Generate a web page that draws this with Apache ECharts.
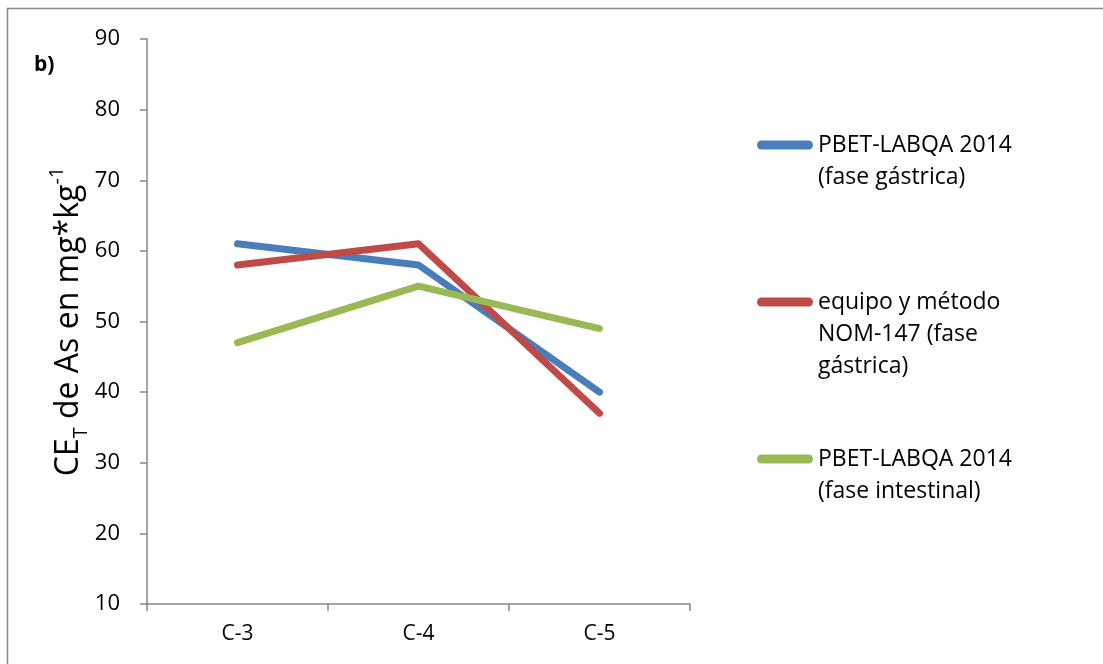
<!DOCTYPE html>
<html>
<head>
<meta charset="utf-8">
<script src="https://cdn.jsdelivr.net/npm/echarts@6/dist/echarts.min.js"></script>
<style>
  html, body { margin: 0; padding: 0; background: #fff; }
  #chart { width: 1103px; height: 664px; }
</style>
</head>
<body>
<div id="chart"></div>
<script>
// Categories and series values
const categories = ['C-3', 'C-4', 'C-5'];
const pbetGastrica = [61, 58, 40];
const nom147Gastrica = [58, 61, 37];
const pbetIntestinal = [47, 55, 49];

const seriesNames = [
  'PBET-LABQA 2014\n(fase gástrica)',
  'equipo y método\nNOM-147 (fase\ngástrica)',
  'PBET-LABQA 2014\n(fase intestinal)'
];
const seriesColors = ['#4A7EBB', '#BE4B48', '#98B954'];
const seriesValues = [pbetGastrica, nom147Gastrica, pbetIntestinal];

const FONT = '"Open Sans", "Noto Sans", sans-serif';
const LINE_H = 32;

const chart = echarts.init(document.getElementById('chart'));

chart.setOption({
  animation: false,
  backgroundColor: '#ffffff',
  textStyle: { fontFamily: FONT },
  grid: { left: 147, right: 413, top: 39, bottom: 60, containLabel: false },
  graphic: [
    {
      type: 'rect',
      shape: { x: 7.5, y: 8.5, width: 1200, height: 700 },
      style: { fill: 'none', stroke: '#898989', lineWidth: 1.5 },
      silent: true
    },
    {
      type: 'text',
      left: 34, top: 55,
      style: { text: 'b)', font: 'bold 21px ' + FONT, fill: '#000' }
    }
  ],
  legend: {
    orient: 'vertical',
    left: 757,
    top: 97,
    padding: 0,
    itemWidth: 56,
    itemHeight: 9,
    itemGap: 29,
    icon: 'path://M4.5,0 L51.5,0 A4.5,4.5 0 0 1 51.5,9 L4.5,9 A4.5,4.5 0 0 1 4.5,0 Z',
    selectedMode: false,
    // leading blank lines keep the first text line level with the icon
    formatter: name => '\n'.repeat(name.split('\n').length - 1) + name,
    textStyle: { fontSize: 23, lineHeight: LINE_H, color: '#000', fontFamily: FONT },
    data: seriesNames
  },
  xAxis: {
    type: 'category',
    data: categories,
    boundaryGap: true,
    axisLine: { lineStyle: { color: '#868686', width: 1.5 } },
    axisTick: { show: true, length: 7, alignWithLabel: false, lineStyle: { color: '#868686', width: 1.5 } },
    axisLabel: { color: '#000', fontSize: 21, margin: 20, fontFamily: FONT }
  },
  yAxis: {
    type: 'value',
    min: 10,
    max: 90,
    interval: 10,
    name: '{n|CE}{sub|T}{n| de As en mg*kg}{sup|-1}',
    nameLocation: 'middle',
    nameGap: 54,
    nameRotate: 90,
    nameTextStyle: {
      color: '#000',
      fontFamily: FONT,
      rich: {
        n: { fontSize: 32, lineHeight: 44, fontFamily: FONT, color: '#000' },
        sub: { fontSize: 20, lineHeight: 20, fontFamily: FONT, color: '#000', verticalAlign: 'bottom' },
        sup: { fontSize: 20, lineHeight: 20, fontFamily: FONT, color: '#000', verticalAlign: 'top' }
      }
    },
    axisLine: { show: true, lineStyle: { color: '#868686', width: 1.5 } },
    axisTick: { show: true, length: 7, lineStyle: { color: '#868686', width: 1.5 } },
    splitLine: { show: false },
    axisLabel: { color: '#000', fontSize: 22, margin: 27, fontFamily: FONT }
  },
  series: seriesValues.map((vals, i) => ({
    name: seriesNames[i],
    type: 'line',
    data: vals,
    symbol: 'none',
    color: seriesColors[i],
    lineStyle: { width: 7, color: seriesColors[i], cap: 'round', join: 'round' }
  }))
});
</script>
</body>
</html>
